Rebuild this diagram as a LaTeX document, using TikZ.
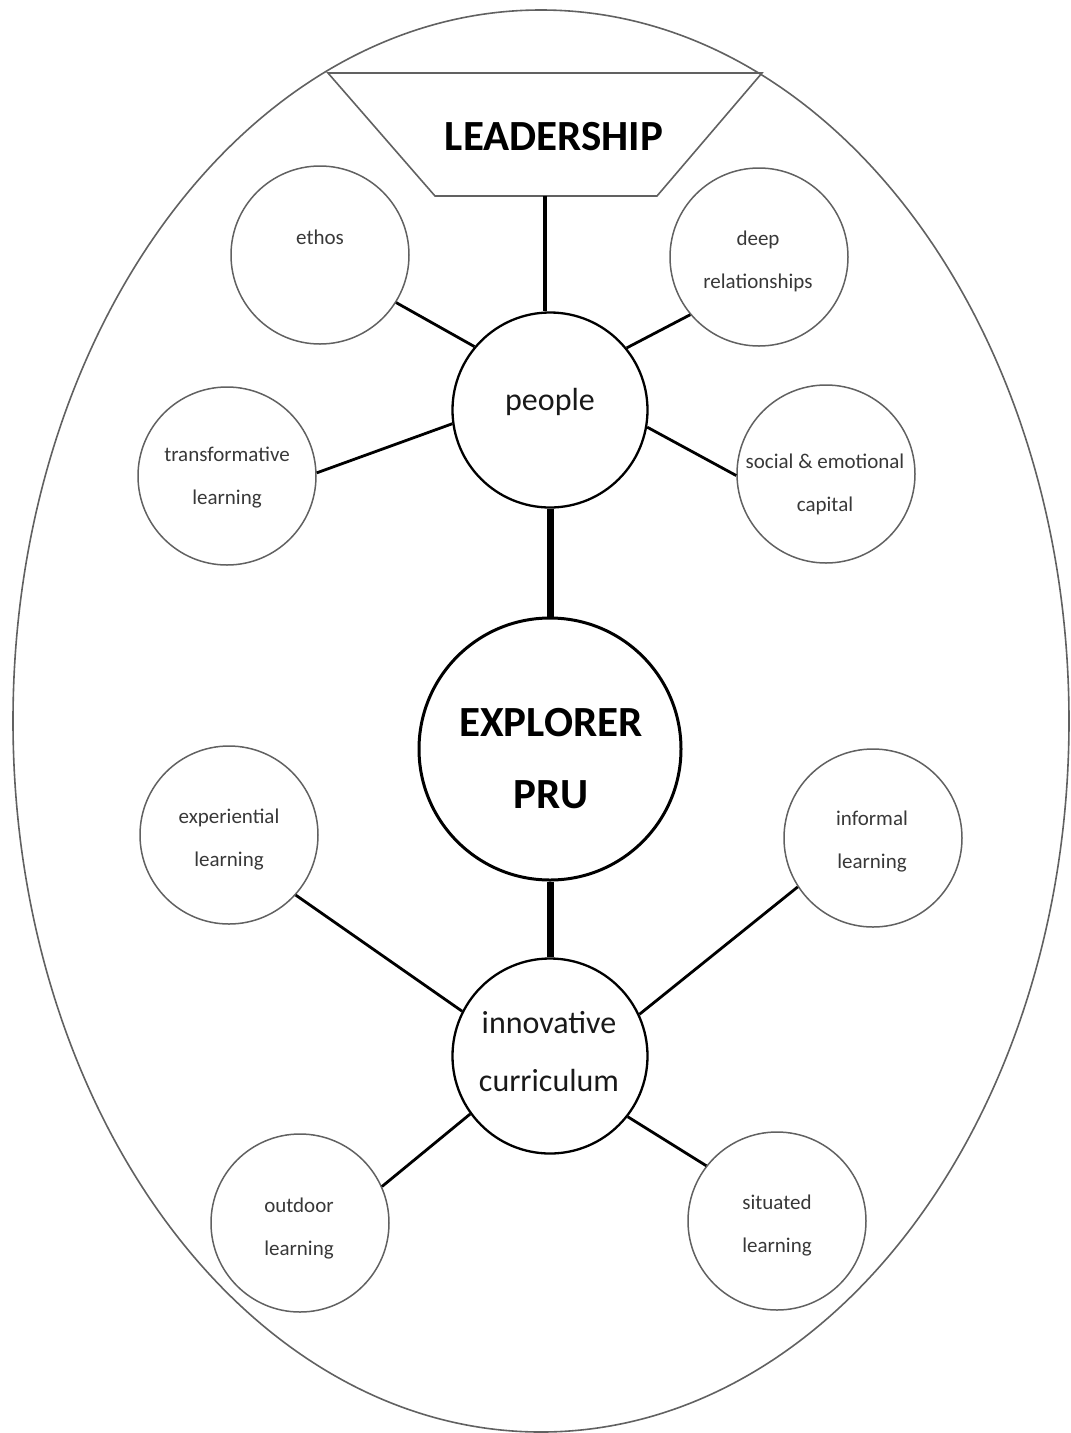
\documentclass[tikz,border=0pt]{standalone}
\usepackage{fontspec}
\setmainfont{Carlito}
\begin{document}
\begin{tikzpicture}[x=1pt,y=-1pt,
  rim/.style={draw=black!62, line width=1.6pt},
  smallc/.style={circle, draw=black!62, line width=1.5pt, minimum size=178pt, inner sep=0pt},
  midc/.style={circle, draw=black, line width=2.3pt, minimum size=195pt, inner sep=0pt},
  bigc/.style={circle, draw=black, line width=3pt, minimum size=262pt, inner sep=0pt},
  smalltxt/.style={font=\fontsize{21}{43}\selectfont, text=black!78, align=center, inner sep=0pt},
  midtxt/.style={font=\fontsize{32}{58}\selectfont, text=black!90, align=center, inner sep=0pt},
  bigtxt/.style={font=\bfseries\fontsize{43}{72}\selectfont, align=center, inner sep=0pt},
  link/.style={draw=black, line width=2.8pt},
  trunk/.style={draw=black, line width=7pt},
]
\useasboundingbox (0,0) rectangle (1071,1433);

% outer boundary
\draw[rim] (541,721) ellipse [x radius=528, y radius=711];

% leadership banner
\draw[rim, line join=miter] (328,73) -- (762,73) -- (657,196) -- (435,196) -- cycle;
\node[bigtxt] (leadership) at (554,137) {LEADERSHIP};
\coordinate (leadbase) at (545,196);

% hub circles
\node[midc] (people) at (550,410) {};
\node[midtxt] (people-t) at (550,402) {people};
\node[bigc] (pru) at (550,749) {};
\node[bigtxt] (pru-t) at (551,759) {EXPLORER\\PRU};
\node[midc] (innov) at (550,1056) {};
\node[midtxt] (innov-t) at (549,1052) {innovative\\curriculum};

% satellite circles
\node[smallc] (ethos) at (320,255) {};
\node[smalltxt] (ethos-t) at (320,237) {ethos};
\node[smallc] (deep) at (759,257) {};
\node[smalltxt] (deep-t) at (758,261) {deep\\relationships};
\node[smallc] (trans) at (227,476) {};
\node[smalltxt] (trans-t) at (227,478) {transformative\\learning};
\node[smallc] (social) at (826,474) {};
\node[smalltxt] (social-t) at (825,484) {social \& emotional\\capital};
\node[smallc] (exper) at (229,835) {};
\node[smalltxt] (exper-t) at (229,840) {experiential\\learning};
\node[smallc] (informal) at (873,838) {};
\node[smalltxt] (informal-t) at (872,842) {informal\\learning};
\node[smallc] (outdoor) at (300,1223) {};
\node[smalltxt] (outdoor-t) at (299,1228) {outdoor\\learning};
\node[smallc] (situated) at (777,1221) {};
\node[smalltxt] (situated-t) at (777,1225) {situated\\learning};

% connectors
\draw[link, line width=3.2pt] (leadbase) -- (leadbase |- people.north);
\draw[link] (ethos.-32) -- (people.140);
\draw[link] (deep.220) -- (people.39);
\draw[link] (trans.2) -- (people.188);
\draw[link] (people.-10) -- (social.181);
\draw[trunk] (people.south) -- (pru.north);
\draw[trunk] (pru.south) -- (innov.north);
\draw[link] (exper.-42) -- (innov.153);
\draw[link] (informal.213) -- (innov.25);
\draw[link] (outdoor.24) -- (innov.216);
\draw[link] (innov.-38) -- (situated.142);
\end{tikzpicture}
\end{document}
